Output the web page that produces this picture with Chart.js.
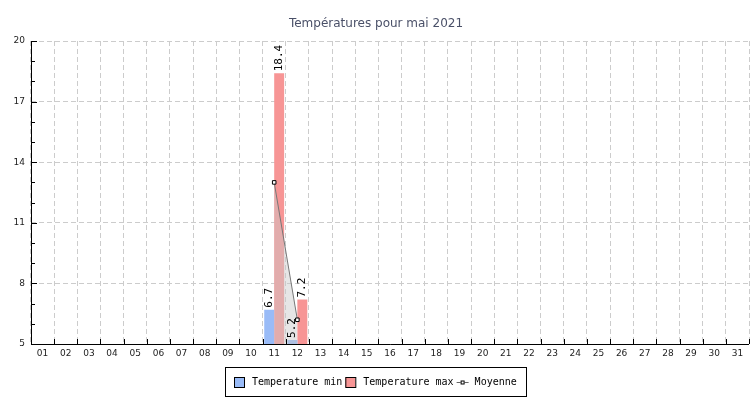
<!DOCTYPE html>
<html>
<head>
<meta charset="utf-8">
<script src="https://cdn.jsdelivr.net/npm/chart.js@4"></script>
<style>
  body { margin: 0; background: #fff; }
  canvas { display: block; }
</style>
</head>
<body>
<canvas id="chart" width="750" height="400"></canvas>
<script>
const days = ['01','02','03','04','05','06','07','08','09','10','11','12','13','14','15','16',
  '17','18','19','20','21','22','23','24','25','26','27','28','29','30','31'];
const tempMin = [null,null,null,null,null,null,null,null,null,null,6.7,5.2,null,null,null,null,
  null,null,null,null,null,null,null,null,null,null,null,null,null,null,null];
const tempMax = [null,null,null,null,null,null,null,null,null,null,18.4,7.2,null,null,null,null,
  null,null,null,null,null,null,null,null,null,null,null,null,null,null,null];
const moyenne = [null,null,null,null,null,null,null,null,null,null,13.0,6.2,null,null,null,null,
  null,null,null,null,null,null,null,null,null,null,null,null,null,null,null];
const yLabels = [5, 8, 11, 14, 17, 20];

const blue = '#99bbf7';
const red = '#f79595';
const mono = '"DejaVu Sans Mono", monospace';

// valeurs écrites verticalement au-dessus des barres
const barLabels = {
  id: 'barLabels',
  afterDatasetsDraw(chart) {
    const ctx = chart.ctx;
    ctx.save();
    ctx.font = '11px ' + mono;
    ctx.fillStyle = '#000';
    ctx.textAlign = 'left';
    ctx.textBaseline = 'middle';
    chart.data.datasets.forEach((ds, i) => {
      if (ds.type !== 'bar') return;
      chart.getDatasetMeta(i).data.forEach((bar, j) => {
        if (ds.data[j] == null) return;
        ctx.save();
        ctx.translate(bar.x, bar.y - 2);
        ctx.rotate(-Math.PI / 2);
        ctx.fillText(ds.data[j].toFixed(1), 0, 0);
        ctx.restore();
      });
    });
    ctx.restore();
  }
};

// axes, graduations, titre et légende encadrée
const decor = {
  id: 'decor',
  afterDraw(chart) {
    const ctx = chart.ctx;
    const a = chart.chartArea;
    const x = chart.scales.x, y = chart.scales.y;
    ctx.save();
    ctx.strokeStyle = '#000';
    ctx.lineWidth = 1;
    ctx.setLineDash([]);
    ctx.beginPath();
    ctx.moveTo(a.left + 0.5, a.top);
    ctx.lineTo(a.left + 0.5, a.bottom + 0.5);
    ctx.lineTo(a.right, a.bottom + 0.5);
    for (let v = y.min; v <= y.max; v++) {
      const py = Math.round(y.getPixelForValue(v)) + 0.5;
      ctx.moveTo(a.left, py);
      ctx.lineTo(a.left + (yLabels.includes(v) ? 6 : 4), py);
    }
    for (let i = 0; i <= days.length; i++) {
      const px = Math.round(x.getPixelForValue(i - 0.5)) + 0.5;
      ctx.moveTo(px, a.bottom);
      ctx.lineTo(px, a.bottom - 5);
    }
    ctx.stroke();

    ctx.fillStyle = '#4a5068';
    ctx.font = '12px "DejaVu Sans"';
    ctx.textAlign = 'center';
    ctx.textBaseline = 'middle';
    ctx.fillText('Températures pour mai 2021', 376, 24);

    const items = [
      { text: 'Temperature min', color: blue },
      { text: 'Temperature max', color: red },
      { text: 'Moyenne', line: true }
    ];
    ctx.font = '10px ' + mono;
    const sym = 12, gap = 6, sep = 3;
    let total = 0;
    items.forEach(it => { it.w = ctx.measureText(it.text).width; total += sym + gap + it.w; });
    total += sep * (items.length - 1);
    const boxW = Math.round(total + 18), boxH = 29;
    const bx = Math.round(375 - boxW / 2), by = 367;
    ctx.strokeRect(bx + 0.5, by + 0.5, boxW, boxH);
    let cx = bx + 9;
    const cy = by + boxH / 2 + 0.5;
    ctx.textAlign = 'left';
    items.forEach(it => {
      if (it.line) {
        ctx.strokeStyle = '#666';
        ctx.beginPath();
        ctx.moveTo(cx, Math.round(cy) + 0.5);
        ctx.lineTo(cx + sym, Math.round(cy) + 0.5);
        ctx.stroke();
        ctx.fillStyle = '#fff';
        ctx.strokeStyle = '#000';
        ctx.fillRect(cx + 4, Math.round(cy) - 1.5, 4, 4);
        ctx.strokeRect(cx + 4.5, Math.round(cy) - 1, 3, 3);
      } else {
        ctx.fillStyle = it.color;
        ctx.fillRect(cx, Math.round(cy) - 5, 10, 10);
        ctx.strokeStyle = '#000';
        ctx.strokeRect(cx + 0.5, Math.round(cy) - 4.5, 10, 10);
      }
      ctx.fillStyle = '#000';
      ctx.fillText(it.text, cx + sym + gap, cy);
      cx += sym + gap + it.w + sep;
    });
    ctx.restore();
  }
};

new Chart(document.getElementById('chart'), {
  data: {
    labels: days,
    datasets: [
      {
        type: 'line',
        label: 'Moyenne',
        data: moyenne,
        order: 0,
        borderColor: '#777',
        borderWidth: 1,
        fill: 'origin',
        backgroundColor: 'rgba(200,200,200,0.45)',
        pointStyle: 'rect',
        pointRadius: 2.5,
        pointBorderWidth: 1,
        pointBackgroundColor: '#fff',
        pointBorderColor: '#000',
        spanGaps: false
      },
      {
        type: 'bar',
        label: 'Temperature min',
        data: tempMin,
        order: 1,
        backgroundColor: blue,
        categoryPercentage: 0.86,
        barPercentage: 1.0
      },
      {
        type: 'bar',
        label: 'Temperature max',
        data: tempMax,
        order: 1,
        backgroundColor: red,
        categoryPercentage: 0.86,
        barPercentage: 1.0
      }
    ]
  },
  options: {
    responsive: false,
    animation: false,
    layout: { autoPadding: false, padding: { top: 41, right: 1, bottom: 40, left: 0 } },
    plugins: {
      legend: { display: false },
      title: { display: false },
      tooltip: { enabled: false }
    },
    scales: {
      x: {
        offset: true,
        grid: { offset: true, color: '#cccccc', drawTicks: false },
        border: { display: false, dash: [5, 3] },
        ticks: { color: '#222', font: { family: 'DejaVu Sans', size: 9 }, padding: 4, maxRotation: 0, autoSkip: false },
        afterFit(scale) {
          scale.height = 16;
          scale.paddingLeft = 0;
          scale.paddingRight = 0;
        }
      },
      y: {
        min: 5,
        max: 20,
        grid: {
          drawTicks: false,
          color: ctx => yLabels.includes(ctx.tick.value) ? '#cccccc' : 'rgba(0,0,0,0)'
        },
        border: { display: false, dash: [5, 3] },
        ticks: {
          stepSize: 1,
          autoSkip: false,
          color: '#222',
          font: { family: 'DejaVu Sans', size: 9 },
          padding: 6,
          callback: v => yLabels.includes(v) ? String(v) : ''
        },
        afterFit(scale) { scale.width = 31; }
      }
    }
  },
  plugins: [barLabels, decor]
});
</script>
</body>
</html>
